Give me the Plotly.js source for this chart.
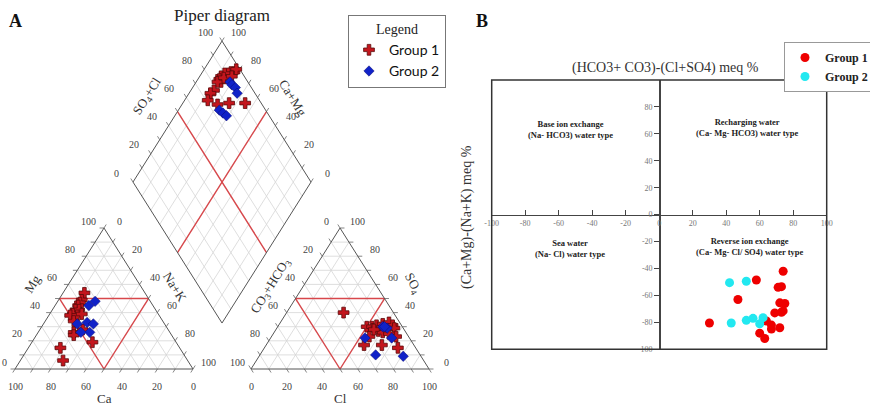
<!DOCTYPE html>
<html><head><meta charset="utf-8">
<script src="https://cdn.plot.ly/plotly-3.0.1.min.js"></script>
<style>html,body{margin:0;padding:0;background:#fff}#chart{width:870px;height:405px}</style>
</head><body><div id="chart"></div>
<script>
// ================= DATA =================
// Panel A – Piper diagram, cation triangle (% meq)
const g1Ca  = [34,38,40,42,45,43,48,50,46,43,50,54,55,48,47,67,70];
const g1Mg  = [54,49,47,45,42,42,39,38,38,39,34,26,24,28,19,15,6];
const g1NaK = [12,13,13,13,13,15,13,12,16,18,16,20,21,24,34,18,24];
const g2Ca  = [31,36,49,43,40,45,50];
const g2Mg  = [48,45,32,33,32,26,26];
const g2NaK = [21,19,19,24,28,29,24];
// anion triangle (% meq)
const g1SO4  = [40,30,30,31,32,33,31,29,27,26,25,23,23,17,17,15,28];
const g1Cl   = [32,50,53,55,58,61,64,66,58,61,65,70,55,55,65,75,55];
const g1HCO3 = [28,20,17,14,10,6,5,5,15,13,10,7,22,28,18,10,17];
const g2SO4  = [30,29,22,22,10,9,30];
const g2Cl   = [59,62,53,68,65,81,60];
const g2HCO3 = [11,9,25,10,25,10,10];
// diamond field (% meq)
const g1CaMg  = [84,82,85,87,88,88,86,88,87,88,87,80,74,65,82,86,82];
const g1SO4Cl = [94,96,92,90,87,85,85,83,78,75,71,75,82,91,98,88,93];
const g2CaMg  = [81,79,76,73,77,74,71];
const g2SO4Cl = [90,90,91,90,74,75,76];
const triTicks = [0,20,40,60,80,100];

// Panel B – Chadha plot (meq %)
const bG1x = [30,58,47,74,71,73,72,75,69,73,74,64,67,67,72,60,63];
const bG1y = [-80.5,-48.5,-63,-42,-54,-53.5,-65.5,-66,-73,-72.5,-71.5,-79,-82,-85,-84,-88,-92];
const bG2x = [42,52,43,52,56,62,60];
const bG2y = [-50.5,-49.5,-80.5,-78.5,-77,-76.5,-81];
const bTicksX = [-100,-80,-60,-40,-20,0,20,40,60,80,100];
const bTicksY = [-100,-80,-60,-40,-20,0,20,40,60,80];
const quadLabels = [
  {x:-53, y:63, t:'Base ion exchange<br>(Na- HCO3) water type'},
  {x:53, y:64.5, t:'Recharging water<br>(Ca- Mg- HCO3) water type'},
  {x:-53, y:-25.5, t:'Sea water<br>(Na- Cl) water type'},
  {x:54, y:-24, t:'Reverse ion exchange<br>(Ca- Mg- Cl/ SO4) water type'}
];

// ================= GEOMETRY =================
const H = Math.sqrt(3)/2, G = 32.6;
const C0=[0,0], C1=[100,0], C2=[50,100*H];
const A0=[100+G,0], A1=[200+G,0], A2=[150+G,100*H];
const DB=[100+G/2, G*H], DR=[DB[0]+50, DB[1]+100*H], DL=[DB[0]-50, DB[1]+100*H], DT=[DB[0], DB[1]+200*H];
const lerp=(P,Q,t)=>[P[0]+(Q[0]-P[0])*t, P[1]+(Q[1]-P[1])*t];
function cat(ca,mg,na){const s=ca+mg+na; mg=mg/s*100; na=na/s*100; return [na+mg/2, mg*H];}
function an(h,so4,cl){const s=h+so4+cl; so4=so4/s*100; cl=cl/s*100; return [A0[0]+cl+so4/2, so4*H];}
function dia(cm,sc){return [DB[0]+0.5*(sc-cm), DB[1]+H*(sc+cm)];}

function segs(list){const x=[],y=[];list.forEach(s=>{x.push(s[0][0],s[1][0],null);y.push(s[0][1],s[1][1],null);});return {x,y};}
const grid=[], outline=[], red=[], ticks=[];
function triGrid(P0,P1,P2){
  for(let k=10;k<100;k+=10){const t=k/100;
    grid.push([lerp(P0,P2,t),lerp(P1,P2,t)]);
    grid.push([lerp(P0,P1,t),lerp(P0,P2,t)]);
    grid.push([lerp(P1,P0,t),lerp(P1,P2,t)]);}
  outline.push([P0,P1],[P1,P2],[P2,P0]);
  const m01=lerp(P0,P1,.5), m12=lerp(P1,P2,.5), m02=lerp(P0,P2,.5);
  red.push([m02,m12],[m12,m01],[m01,m02]);
}
triGrid(C0,C1,C2); triGrid(A0,A1,A2);
for(let k=10;k<100;k+=10){const t=k/100;
  grid.push([lerp(DB,DL,t),lerp(DR,DT,t)]);
  grid.push([lerp(DB,DR,t),lerp(DL,DT,t)]);}
outline.push([DB,DR],[DR,DT],[DT,DL],[DL,DB]);
red.push([lerp(DB,DL,.5),lerp(DR,DT,.5)],[lerp(DB,DR,.5),lerp(DL,DT,.5)]);
function addTicks(P,Q,dir){for(let k=0;k<=100;k+=10){const p=lerp(P,Q,k/100);ticks.push([p,[p[0]+dir[0]*2.5,p[1]+dir[1]*2.5]]);}}
addTicks(C0,C2,[-1,0]); addTicks(C2,C1,[0.5,H]); addTicks(C0,C1,[-0.5,-H]);
addTicks(A1,A2,[1,0]); addTicks(A2,A0,[-0.5,H]); addTicks(A0,A1,[0.5,-H]);
addTicks(DL,DT,[-0.5,H]); addTicks(DR,DT,[0.5,H]);

const gs=segs(grid), os=segs(outline), rs=segs(red), ts=segs(ticks);
const pts=(cs)=>({x:cs.map(p=>p[0]), y:cs.map(p=>p[1])});
const g1pts=[].concat(
  g1Ca.map((v,i)=>cat(v,g1Mg[i],g1NaK[i])),
  g1SO4.map((v,i)=>an(g1HCO3[i],v,g1Cl[i])),
  g1CaMg.map((v,i)=>dia(v,g1SO4Cl[i])));
const g2pts=[].concat(
  g2Ca.map((v,i)=>cat(v,g2Mg[i],g2NaK[i])),
  g2SO4.map((v,i)=>an(g2HCO3[i],v,g2Cl[i])),
  g2CaMg.map((v,i)=>dia(v,g2SO4Cl[i])));
const P1=pts(g1pts), P2=pts(g2pts);

const traces=[
  {x:gs.x,y:gs.y,mode:'lines',line:{color:'#d6d6d6',width:0.8},hoverinfo:'skip',showlegend:false},
  {x:ts.x,y:ts.y,mode:'lines',line:{color:'#666',width:0.8},hoverinfo:'skip',showlegend:false},
  {x:rs.x,y:rs.y,mode:'lines',line:{color:'#d8474b',width:1.4},hoverinfo:'skip',showlegend:false},
  {x:os.x,y:os.y,mode:'lines',line:{color:'#555',width:1},hoverinfo:'skip',showlegend:false},
  {x:P1.x,y:P1.y,mode:'markers',name:'Group 1',legend:'legend',
   marker:{symbol:'cross',size:9,color:'#c3161d',line:{color:'#5c0a0a',width:0.8}}},
  {x:P2.x,y:P2.y,mode:'markers',name:'Group 2',legend:'legend',
   marker:{symbol:'diamond',size:8,color:'#1022c8',line:{color:'#0a0a70',width:0.5}}},
  {x:bG1x,y:bG1y,xaxis:'x2',yaxis:'y2',mode:'markers',name:'Group 1',legend:'legend2',
   marker:{symbol:'circle',size:9,color:'#ee0000'}},
  {x:bG2x,y:bG2y,xaxis:'x2',yaxis:'y2',mode:'markers',name:'Group 2',legend:'legend2',
   marker:{symbol:'circle',size:9,color:'#22e8f0'}}
];

const serif='Liberation Serif, Times New Roman, serif';
const tf={family:serif,size:10,color:'#444'};
const ann=[];
function labels(P,Q,dx,dy){triTicks.forEach(v=>{const p=lerp(P,Q,v/100);
  let sx=dx; if(p[0]*1.78+15+dx<4) sx=4-(p[0]*1.78+15);
  ann.push({x:p[0],y:p[1],xref:'x',yref:'y',text:String(v),showarrow:false,xshift:sx,yshift:-dy,font:tf,xanchor:'center',yanchor:'middle'});});}
labels(C0,C2,-16,-7); labels(C2,C1,15,-7); labels(C1,C0,0,17);
labels(A2,A0,-14,-7); labels(A1,A2,17,-7); labels(A0,A1,0,17);
labels(DL,DT,-17,-9); labels(DR,DT,16,-9);
function title(P,text,dx,dy,ang){ann.push({x:P[0],y:P[1],xref:'x',yref:'y',text,showarrow:false,xshift:dx,yshift:-dy,textangle:ang,
  xanchor:'center',yanchor:'middle',font:{family:serif,size:13,color:'#333'}});}
title(lerp(C0,C2,.5),'Mg',-27,-15,-58);
title(lerp(C1,C2,.5),'Na+K',26,-12,58);
title(lerp(C0,C1,.5),'Ca',0,29,0);
title(lerp(A0,A2,.5),'CO<sub>3</sub>+HCO<sub>3</sub>',-25,-12,-58);
title(lerp(A1,A2,.5),'SO<sub>4</sub>',28,-15,62);
title(lerp(A0,A1,.5),'Cl',0,29,0);
title(lerp(DL,DT,.5),'SO<sub>4</sub>+Cl',-30,-15,-58);
title(lerp(DR,DT,.5),'Ca+Mg',26,-14,58);
function pann(px,py,text,font,ang){ann.push({x:px/870,y:1-py/405,xref:'paper',yref:'paper',text,showarrow:false,
  xanchor:'center',yanchor:'middle',textangle:ang||0,font});}
pann(15,21,'<b>A</b>',{family:serif,size:18,color:'#111'});
pann(482,21,'<b>B</b>',{family:serif,size:18,color:'#111'});
pann(665,68,'(HCO3+ CO3)-(Cl+SO4) meq %',{family:serif,size:14,color:'#333'});
pann(467,217,'(Ca+Mg)-(Na+K) meq %',{family:serif,size:14,color:'#333'},-90);
quadLabels.forEach(q=>ann.push({x:q.x,y:q.y,xref:'x2',yref:'y2',text:'<b>'+q.t+'</b>',showarrow:false,
  xanchor:'center',yanchor:'middle',font:{family:serif,size:8.5,color:'#222'}}));

const bx0=491.7/870, bx1=826.7/870, by0=1-349.3/405, by1=1-80/405;
const btf={family:serif,size:8,color:'#777'};
const layout={
  width:870,height:405,margin:{l:0,r:0,t:0,b:0,autoexpand:false},
  paper_bgcolor:'#fff',plot_bgcolor:'rgba(0,0,0,0)',
  title:{text:'Piper diagram',x:222/870,xref:'paper',y:1-15/405,yref:'paper',xanchor:'center',yanchor:'middle',
    font:{family:serif,size:17,color:'#222'}},
  xaxis:{domain:[0,1],range:[-15/1.78,(870-15)/1.78],visible:false,fixedrange:true},
  yaxis:{domain:[0,1],range:[(369-405)/1.628,369/1.628],visible:false,fixedrange:true},
  xaxis2:{domain:[bx0,bx1],range:[-100,100],anchor:'free',position:(by0+by1)/2,showline:true,linecolor:'#444',linewidth:1.5,
    ticks:'inside',ticklen:5,tickcolor:'#444',tickvals:bTicksX,ticktext:bTicksX.map(String),tickfont:btf,showgrid:false,zeroline:false},
  yaxis2:{domain:[by0,by1],range:[-100,100],anchor:'free',position:(bx0+bx1)/2,showline:true,linecolor:'#444',linewidth:1.5,
    ticks:'outside',ticklen:5,tickcolor:'#444',tickvals:bTicksY,ticktext:bTicksY.map(String),tickfont:btf,showgrid:false,zeroline:false},
  shapes:[{type:'rect',xref:'x2 domain',yref:'y2 domain',x0:0,x1:1,y0:0,y1:1,line:{color:'#333',width:1.5}}],
  annotations:ann,
  legend:{x:348/870,y:1-15/405,xanchor:'left',yanchor:'top',bgcolor:'#fff',bordercolor:'#777',borderwidth:1,
    font:{family:'Lato, sans-serif',size:14,color:'#111'},title:{text:'Legend',side:'top center',font:{family:serif,size:14,color:'#222'}},
    itemwidth:30},
  legend2:{x:784/870,y:1-42/405,xanchor:'left',yanchor:'top',bgcolor:'#fff',bordercolor:'#999',borderwidth:1,
    font:{family:serif,size:12,weight:'bold',color:'#222'},itemwidth:30},
  showlegend:true
};
Plotly.newPlot('chart',traces,layout,{displayModeBar:false,staticPlot:true});
</script></body></html>
